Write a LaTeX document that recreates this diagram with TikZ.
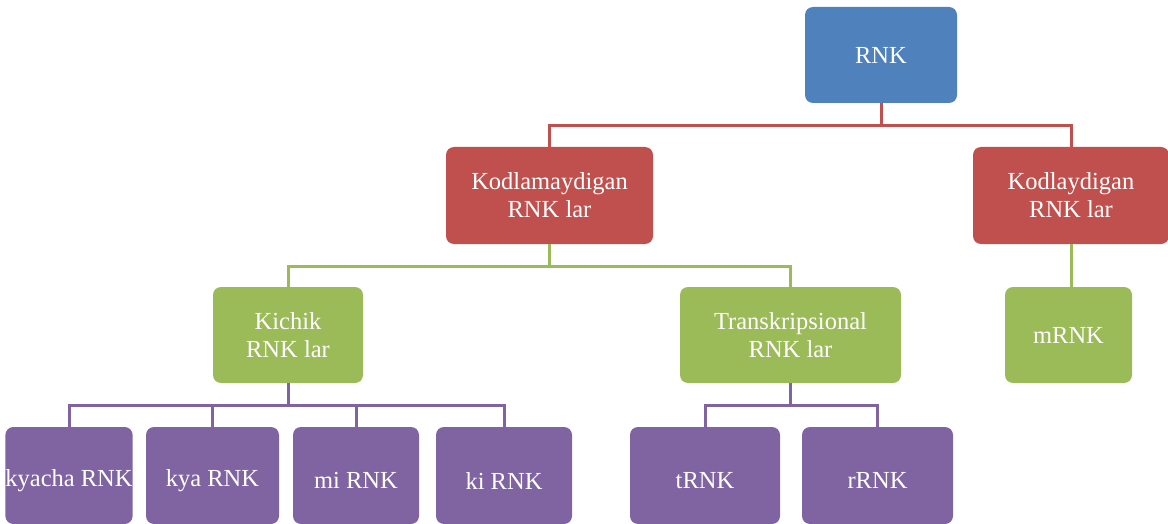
\documentclass[tikz,border=0pt]{standalone}
\usepackage{fontspec}
\setmainfont{Liberation Serif}
\definecolor{cblue}{HTML}{4F81BD}
\definecolor{cred}{HTML}{C0504D}
\definecolor{cgreen}{HTML}{9BBB59}
\definecolor{cpurple}{HTML}{8064A2}
\tikzset{
  box/.style={rectangle, rounded corners=8pt, inner sep=0pt, text=white, align=center,
    font=\fontsize{24.5}{28}\selectfont},
  bluebox/.style={box, fill=cblue},
  redbox/.style={box, fill=cred},
  greenbox/.style={box, fill=cgreen},
  purplebox/.style={box, fill=cpurple},
  redl/.style={draw=cred, line width=3pt},
  greenl/.style={draw=cgreen, line width=3pt},
  purplel/.style={draw=cpurple, line width=3pt},
}
\newcommand{\lowtxt}[1]{\raisebox{-5pt}[\height][\depth]{#1}}
\begin{document}
\begin{tikzpicture}[x=1pt,y=-1pt]
\useasboundingbox (0,0) rectangle (1168,524);
\begin{scope}
\clip (0,0) rectangle (1168,524);
% level 0
\node[bluebox, minimum width=152pt, minimum height=96pt] (rnk) at (881,55) {RNK};
% level 1
\node[redbox, minimum width=207pt, minimum height=97pt] (kod1) at (549.5,195.5) {Kodlamaydigan\\RNK lar};
\node[redbox, minimum width=196pt, minimum height=97pt] (kod2) at (1071,195.5) {Kodlaydigan\\RNK lar};
% level 2
\node[greenbox, minimum width=150pt, minimum height=96pt] (kichik) at (288,335) {Kichik\\RNK lar};
\node[greenbox, minimum width=221pt, minimum height=96pt] (trans) at (790.5,335) {Transkripsional\\RNK lar};
\node[greenbox, minimum width=127pt, minimum height=96pt] (mrnk) at (1068.5,335) {mRNK};
% level 3
\node[purplebox, minimum width=122pt, minimum height=97pt] (kyacha) at (69,475.5) {\lowtxt{kyacha RNK}};
\node[purplebox, minimum width=133pt, minimum height=97pt] (kya) at (212.5,475.5) {\lowtxt{kya RNK}};
\node[purplebox, minimum width=126pt, minimum height=97pt] (mi) at (356,475.5) {\lowtxt{mi RNK}};
\node[purplebox, minimum width=136pt, minimum height=97pt] (ki) at (504,475.5) {\lowtxt{ki RNK}};
\node[purplebox, minimum width=150pt, minimum height=97pt] (trnk) at (705,475.5) {\lowtxt{tRNK}};
\node[purplebox, minimum width=151pt, minimum height=97pt] (rrnk) at (877.5,475.5) {\lowtxt{rRNK}};
% connectors
\draw[redl] (rnk.south) -- ++(0,22) -| (kod1.north);
\draw[redl] (rnk.south) -- ++(0,22) -| (kod2.north);
\draw[greenl] (kod1.south) -- ++(0,22) -| (kichik.north);
\draw[greenl] (kod1.south) -- ++(0,22) -| (trans.north);
\draw[greenl] (kod2.south) -- (kod2.south |- mrnk.north);
\draw[purplel] (kichik.south) -- ++(0,22) -| (kyacha.north);
\draw[purplel] (kichik.south) -- ++(0,22) -| (kya.north);
\draw[purplel] (kichik.south) -- ++(0,22) -| (mi.north);
\draw[purplel] (kichik.south) -- ++(0,22) -| (ki.north);
\draw[purplel] (trans.south) -- ++(0,22) -| (trnk.north);
\draw[purplel] (trans.south) -- ++(0,22) -| (rrnk.north);
\end{scope}
\end{tikzpicture}
\end{document}
